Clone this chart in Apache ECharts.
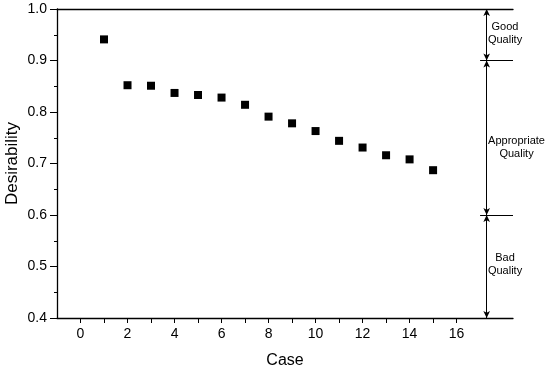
<!DOCTYPE html>
<html><head><meta charset="utf-8">
<script src="https://cdn.jsdelivr.net/npm/echarts@6/dist/echarts.min.js"></script>
<style>html,body{margin:0;padding:0;background:#fff}#c{width:549px;height:372px}</style>
</head><body><div id="c"></div>
<script>
const cases = [1,2,3,4,5,6,7,8,9,10,11,12,13,14,15];
const desirability = [0.941,0.852,0.851,0.837,0.833,0.828,0.814,0.791,0.778,0.763,0.744,0.731,0.716,0.708,0.687];
const xTickLabels = [0,2,4,6,8,10,12,14,16];
const xMinorTicks = [0,1,2,3,4,5,6,7,8,9,10,11,12,13,14,15,16];
const qualityBounds = [1.0,0.9,0.6,0.4];
const qualityNames = ['Good\nQuality','Appropriate\nQuality','Bad\nQuality'];

const FONT = 'Liberation Sans, Arial, sans-serif';
const chart = echarts.init(document.getElementById('c'));
const xMin = -1, xMax = 18.4, xDivider = 17, xArrow = 17.28;
const labelPos = [[18.06,0.952],[18.55,0.732],[18.06,0.503]];

const arrowLines = [];
for (let i = 0; i < qualityBounds.length - 1; i++) {
  arrowLines.push([{coord:[xArrow, qualityBounds[i]]},{coord:[xArrow, qualityBounds[i+1]]}]);
}
const hLines = [0.9,0.6].map(v => [{coord:[xDivider, v], symbol:'none'},{coord:[xMax, v], symbol:'none'}]);

chart.setOption({
  animation:false,
  grid:{left:57,right:36,top:9,bottom:54,containLabel:false,outerBoundsMode:'none'},
  xAxis:[{
    type:'value', min:xMin, max:xMax,
    name:'Case', nameLocation:'middle', nameGap:35, nameMoveOverlap:false,
    nameTextStyle:{fontFamily:FONT,fontSize:16,color:'#000'},
    axisLine:{show:true,onZero:false,lineStyle:{color:'#000',width:1.3}},
    axisTick:{show:true,inside:false,length:5,customValues:xMinorTicks,lineStyle:{color:'#000'}},
    axisLabel:{customValues:xTickLabels,fontFamily:FONT,fontSize:14,color:'#000',margin:9},
    splitLine:{show:false}
  },{
    type:'value', position:'top', min:xMin, max:xMax,
    axisLine:{show:true,onZero:false,lineStyle:{color:'#000',width:1.3}},
    axisTick:{show:false}, axisLabel:{show:false}, splitLine:{show:false}
  }],
  yAxis:{
    type:'value', min:0.4, max:1.0, interval:0.1,
    name:'Desirability', nameLocation:'middle', nameGap:36, nameMoveOverlap:false,
    nameTextStyle:{fontFamily:FONT,fontSize:17,color:'#000'},
    axisLine:{show:true,onZero:false,lineStyle:{color:'#000',width:1.3}},
    axisTick:{show:true,length:7,lineStyle:{color:'#000'}},
    minorTick:{show:true,splitNumber:2,length:3,lineStyle:{color:'#000'}},
    axisLabel:{fontFamily:FONT,fontSize:14,color:'#000',margin:10,formatter:v=>v.toFixed(1)},
    splitLine:{show:false}
  },
  series:[{
    type:'scatter', data:cases.map((c,i)=>[c,desirability[i]]),
    symbol:'rect', symbolSize:8, itemStyle:{color:'#000',opacity:1},
    markLine:{
      silent:true, symbol:['arrow','arrow'], symbolSize:[5,7],
      label:{show:false},
      lineStyle:{color:'#000',width:1,type:'solid'},
      data:[...arrowLines, ...hLines, [{coord:[xDivider,0.385],symbol:'none'},{coord:[xDivider,1.0],symbol:'none'}]]
    }
  },{
    type:'scatter', clip:false, symbolSize:0, silent:true,
    itemStyle:{opacity:1},
    data:labelPos.map((p,i)=>({value:p,label:{formatter:qualityNames[i]}})),
    label:{show:true,position:'inside',fontFamily:FONT,fontSize:11,color:'#000',opacity:1,lineHeight:13,align:'center'}
  }]
});
</script></body></html>
